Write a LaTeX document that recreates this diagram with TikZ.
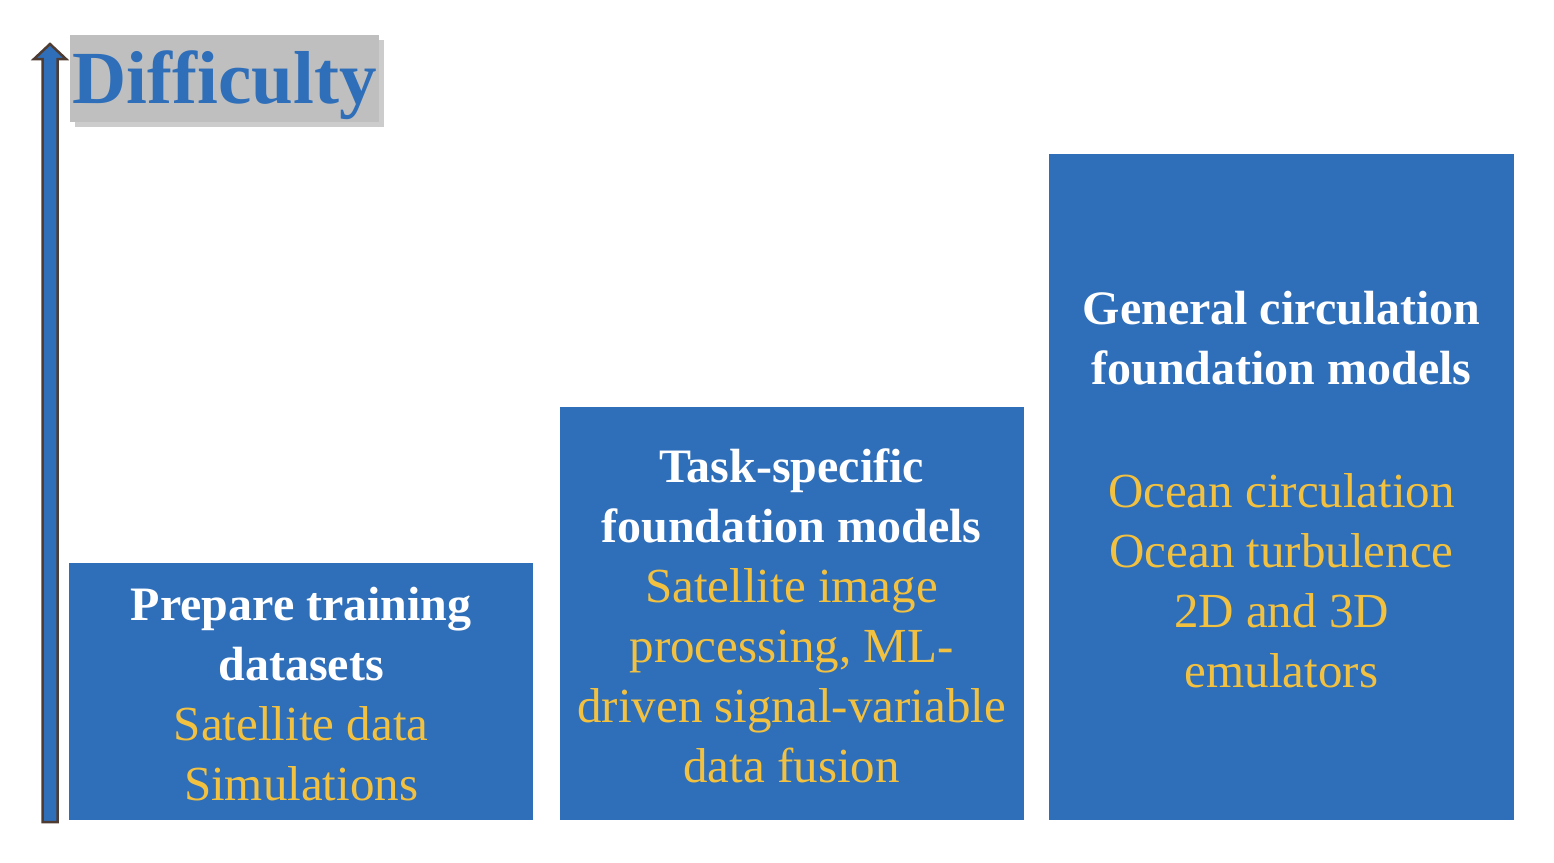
\documentclass[tikz,border=0pt]{standalone}
\usepackage{fontspec}
\setmainfont{Liberation Serif}
\usetikzlibrary{shadows,calc}
\definecolor{boxblue}{RGB}{47,111,186}
\definecolor{textgold}{RGB}{243,193,64}
\definecolor{labelgray}{RGB}{191,191,191}
\definecolor{arrowbrown}{RGB}{78,60,50}
\newcommand{\headtext}{\color{white}\fontsize{48}{60}\selectfont\bfseries}
\newcommand{\subtext}{\color{textgold}\fontsize{49}{60}\selectfont\mdseries}
\tikzset{
  stepbox/.style={fill=boxblue, inner sep=0pt, anchor=south west},
  steptext/.style={inner sep=0pt, align=center, font=\fontsize{48}{60}\selectfont},
}
\begin{document}
\begin{tikzpicture}[x=1pt,y=1pt,yscale=-1,xscale=1]
        \useasboundingbox (0,0) rectangle (1554,862);
        %Axis arrow
        \draw [arrowbrown, line width=2.5pt, fill=boxblue, line join=miter] (42.5,822) -- (42.5,59) -- (34,59) -- (50,44) -- (66,59) -- (57.5,59) -- (57.5,822) -- cycle ;

        %Label
        \node [fill=labelgray, drop shadow={shadow xshift=5pt, shadow yshift=-5pt, opacity=0.4}, minimum width=309pt, minimum height=87pt, inner sep=0pt, text height=51pt, text depth=2pt, text=boxblue, font=\fontsize{75}{75}\selectfont\bfseries, anchor=north west] (difficulty) at (70,35) {Difficulty};

        %Steps
        \node [stepbox, minimum width=464pt, minimum height=257pt] (prepare) at (69,820) {};
        \node [stepbox, minimum width=464pt, minimum height=413pt] (taskfm) at ([xshift=26pt]prepare.south east) {};
        \node [stepbox, minimum width=465pt, minimum height=666pt] (generalfm) at ([xshift=25pt]taskfm.south east) {};

        %Step texts
        \node [steptext] (preparetext) at ($(prepare.center)+(0,3)$)
        {\headtext Prepare training\\ \headtext datasets\\ \subtext Satellite data\\ \subtext Simulations};
        \node [steptext] (taskfmtext) at ($(taskfm.center)+(0,3)$)
        {\headtext Task-specific\\ \headtext foundation models\\ \subtext Satellite image\\ \subtext processing, ML-\\ \subtext driven signal-variable\\ \subtext data fusion};
        \node [steptext] (generalfmtext) at ($(generalfm.center)+(0,3)$)
        {\headtext General circulation\\ \headtext foundation models\\[63pt] \subtext Ocean circulation\\ \subtext Ocean turbulence\\ \subtext 2D and 3D\\ \subtext emulators};
    \end{tikzpicture}
\end{document}
